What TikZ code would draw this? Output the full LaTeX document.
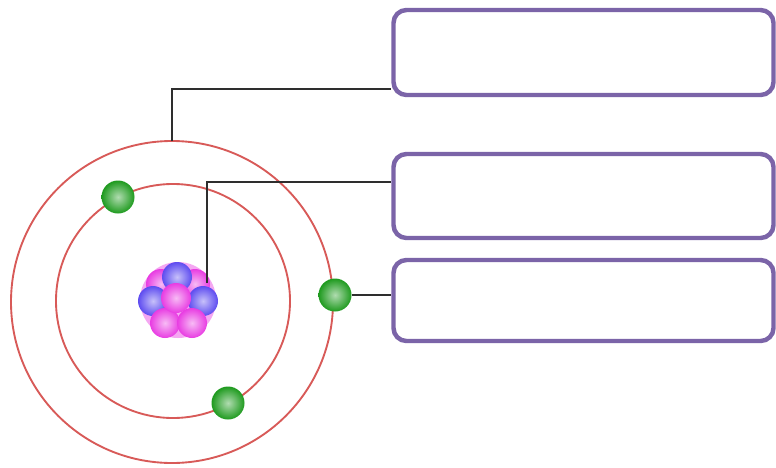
\documentclass[tikz,border=0pt]{standalone}
\usetikzlibrary{shadings}
\definecolor{orbitred}{HTML}{D85A58}
\definecolor{boxpurple}{HTML}{7B64A8}
\definecolor{linegray}{HTML}{2E2E2E}
\definecolor{elgreen}{HTML}{1E9A1E}
\definecolor{protpink}{HTML}{E83CE2}
\definecolor{neutblue}{HTML}{5E4CF0}
\newlength{\pgfLength}
\setlength{\pgfLength}{0.03cm}
\tikzset{
  orbit/.style={draw=orbitred, line width=1.6pt},
  labelbox/.style={draw=boxpurple, line width=3.8pt, rounded corners=11pt,
    fill=white, minimum width=380\pgfLength, minimum height=85\pgfLength, inner sep=0pt},
  sphere/.style={circle, inner sep=0pt, shading=radial,
    inner color=#1!35!white, outer color=#1},
  electron/.style={sphere=elgreen, minimum size=33\pgfLength},
  proton/.style={sphere=protpink, minimum size=30\pgfLength},
  neutron/.style={sphere=neutblue, minimum size=30\pgfLength},
  connector/.style={draw=linegray, line width=2.5pt}
}
\begin{document}
\begin{tikzpicture}[x=0.03cm,y=-0.03cm]
\useasboundingbox[fill=white] (0,0) rectangle (776,467);
% orbits
\node[circle, draw=none, minimum size=322\pgfLength, inner sep=0pt] (outer) at (172,302) {};
\node[circle, draw=none, minimum size=234\pgfLength, inner sep=0pt] (inner) at (173,301) {};
\draw[orbit] (outer.center) circle (161);
\draw[orbit] (inner.center) circle (117);
% nucleus
\node[circle, minimum size=76\pgfLength, inner sep=0pt, fill=protpink!45] (nucleus) at (178,300) {};
\node[proton] (p0) at (161,284) {};
\node[proton] (p00) at (195,284) {};
\node[neutron] (n1) at (177,277) {};
\node[neutron] (n2) at (153,301) {};
\node[neutron] (n3) at (203,301) {};
\node[proton] (p1) at (165,323) {};
\node[proton] (p2) at (192,323) {};
\node[proton] (p3) at (176,298) {};
% electrons
\node[electron] (e1) at (118,197) {};
\node[electron] (e2) at (228,403) {};
\node[electron] (e3) at (335,295) {};
% label boxes
\node[labelbox] (b1) at (583.5,52.5) {};
\node[labelbox, minimum height=84\pgfLength] (b2) at (583.5,196) {};
\node[labelbox, minimum height=81\pgfLength] (b3) at (583.5,300.5) {};
% connectors
\coordinate (t1) at (172,141);
\coordinate (k1) at (172,89);
\coordinate (t2) at (207,283);
\coordinate (k2) at (207,182);
\draw[connector] (t1) -- (k1) -- (k1 -| b1.west);
\draw[connector] (t2) -- (k2) -- (k2 -| b2.west);
\draw[connector] (e3.east) -- (e3.east -| b3.west);
\end{tikzpicture}
\end{document}
